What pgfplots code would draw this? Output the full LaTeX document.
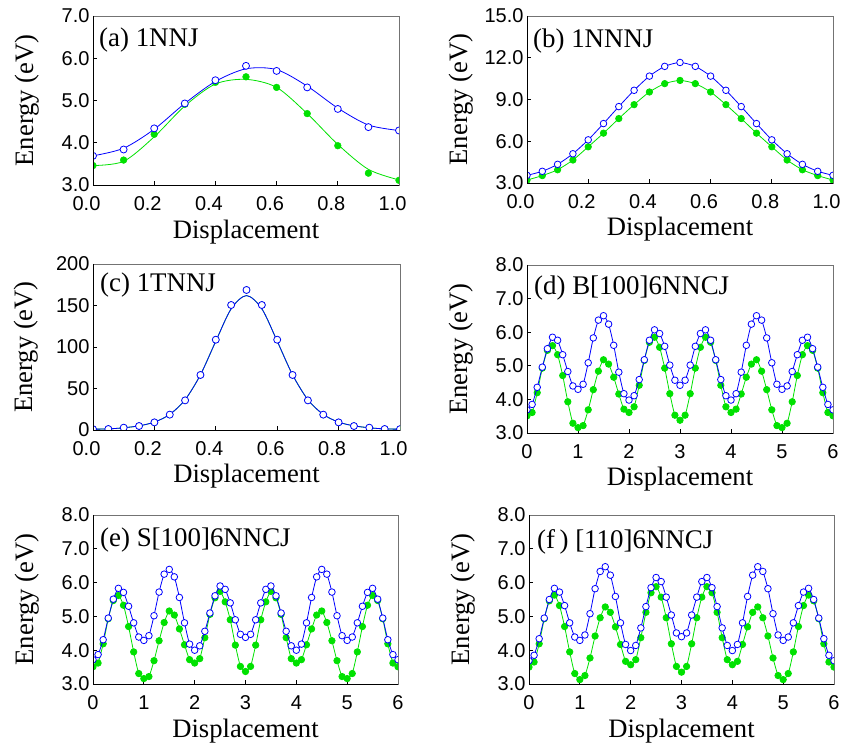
\documentclass[border=0pt]{standalone}
\usepackage{fontspec}
\setmainfont{Liberation Serif}
\newfontfamily\tickfont{Liberation Sans}
\usepackage{pgfplots}
\usepackage{pgfplotstable}
\pgfplotsset{compat=1.18}
\definecolor{grn}{RGB}{0,225,0}
\definecolor{blu}{RGB}{0,0,255}

\tikzset{plab/.style={anchor=base west, font=\fontsize{26.9}{26.9}\selectfont, inner sep=0pt}}
\pgfplotsset{
  panel/.style={
    scale only axis, width=306pt, height=168pt,
    xtick pos=bottom, ytick pos=left, tick align=inside,
    major tick length=4pt,
    axis line style={black!55, line width=0.6pt},
    tick style={black, line width=0.7pt},
    ticklabel style={font=\tickfont\fontsize{20}{20}\selectfont},
    xticklabel style={yshift=-8pt},
    /pgf/number format/assume math mode=true,
    label style={font=\fontsize{26.6}{26.6}\selectfont},
    xlabel={Displacement}, ylabel={Energy (eV)},
    xlabel style={at={(axis description cs:0.5,-0.315)}, anchor=base},
    ylabel style={at={(axis description cs:-0.196,0.5)}, anchor=base},
    clip marker paths=true,
    after end axis/.code={\draw[black,line width=0.8pt] (rel axis cs:0,1)--(rel axis cs:0,0)--(rel axis cs:1,0);},
  },
  xdec/.style={xticklabel style={xshift=-6.5pt, /pgf/number format/fixed, /pgf/number format/fixed zerofill, /pgf/number format/precision=1}},
  ydec/.style={yticklabel style={/pgf/number format/fixed, /pgf/number format/fixed zerofill, /pgf/number format/precision=1}},
  gmark/.style={only marks, mark=*, mark size=3.4pt, color=grn, mark options={fill=grn, draw=grn}},
  bmark/.style={only marks, mark=*, mark size=3.5pt, color=blu, mark options={fill=white, draw=blu, line width=0.8pt}},
  gline/.style={grn, line width=0.8pt, smooth, tension=0.4, mark=*, mark size=3.2pt, mark options={fill=grn, draw=grn}},
  bline/.style={blu, line width=0.8pt, smooth, tension=0.4, mark=*, mark size=3.3pt, mark options={fill=white, draw=blu, line width=0.8pt}},
}

% panel (b)
\pgfplotstableread{
x b g
0.00 3.55 3.21
0.05 3.84 3.53
0.10 4.34 3.95
0.15 5.10 4.65
0.20 6.10 5.60
0.25 7.27 6.58
0.30 8.49 7.63
0.35 9.66 8.63
0.40 10.68 9.54
0.45 11.38 10.14
0.50 11.66 10.37
0.55 11.38 10.14
0.60 10.68 9.54
0.65 9.66 8.63
0.70 8.49 7.63
0.75 7.27 6.58
0.80 6.10 5.60
0.85 5.10 4.65
0.90 4.34 3.95
0.95 3.84 3.53
1.00 3.55 3.21
}\tabB

% panel (c)
\pgfplotstableread{
x m l
0.00 1.0 1.0
0.05 1.2 1.3
0.10 2.8 2.7
0.15 4.8 5.0
0.20 9.2 9.5
0.25 18.5 18.8
0.30 35.7 36.5
0.35 66.3 66.5
0.40 108.8 107.0
0.45 150.6 146.0
0.50 168.7 162.0
0.55 150.6 146.0
0.60 108.8 107.0
0.65 66.3 66.5
0.70 35.7 36.5
0.75 18.5 18.8
0.80 9.2 9.5
0.85 4.8 5.0
0.90 2.8 2.7
0.95 1.2 1.3
1.00 1.0 1.0
}\tabC

% panels (d), (e), (f)
\pgfplotstableread{
x bd gd be ge bf gf
0.0 3.69 3.51 3.72 3.51 3.69 3.50
0.1 3.85 3.61 3.87 3.62 3.85 3.65
0.2 4.36 4.20 4.31 4.19 4.34 4.19
0.3 4.96 4.93 4.95 4.93 4.95 4.93
0.4 5.51 5.46 5.51 5.47 5.50 5.46
0.5 5.85 5.60 5.83 5.62 5.83 5.63
0.6 5.76 5.33 5.71 5.33 5.72 5.32
0.7 5.33 4.71 5.30 4.70 5.32 4.70
0.8 4.83 3.93 4.81 3.95 4.81 3.95
0.9 4.40 3.29 4.39 3.31 4.39 3.31
1.0 4.30 3.16 4.29 3.16 4.29 3.13
1.1 4.45 3.22 4.43 3.22 4.45 3.25
1.2 5.09 3.69 5.02 3.69 5.08 3.77
1.3 5.83 4.29 5.72 4.28 5.82 4.42
1.4 6.36 4.84 6.25 4.82 6.33 4.96
1.5 6.49 5.18 6.39 5.16 6.47 5.28
1.6 6.24 5.05 6.17 5.04 6.22 5.12
1.7 5.61 4.66 5.56 4.63 5.59 4.69
1.8 4.81 4.16 4.81 4.16 4.81 4.17
1.9 4.17 3.71 4.18 3.72 4.17 3.67
2.0 3.98 3.61 4.00 3.62 3.99 3.57
2.1 4.11 3.78 4.13 3.75 4.14 3.72
2.2 4.59 4.42 4.56 4.37 4.66 4.37
2.3 5.18 5.16 5.10 5.06 5.29 5.12
2.4 5.76 5.70 5.61 5.55 5.85 5.70
2.5 6.07 5.85 5.90 5.74 6.15 5.88
2.6 5.96 5.55 5.80 5.43 6.03 5.57
2.7 5.58 4.93 5.40 4.90 5.57 4.96
2.8 5.02 4.17 4.90 4.15 5.04 4.19
2.9 4.57 3.53 4.47 3.52 4.51 3.52
3.0 4.42 3.38 4.38 3.37 4.40 3.35
3.1 4.57 3.53 4.47 3.52 4.51 3.52
3.2 5.02 4.17 4.90 4.15 5.04 4.19
3.3 5.58 4.93 5.40 4.90 5.57 4.96
3.4 5.96 5.55 5.80 5.43 6.03 5.57
3.5 6.07 5.85 5.90 5.74 6.15 5.88
3.6 5.76 5.70 5.61 5.55 5.85 5.70
3.7 5.18 5.16 5.10 5.06 5.29 5.12
3.8 4.59 4.42 4.56 4.37 4.66 4.37
3.9 4.11 3.78 4.13 3.75 4.14 3.72
4.0 3.98 3.61 4.00 3.62 3.99 3.57
4.1 4.17 3.71 4.18 3.72 4.17 3.67
4.2 4.81 4.16 4.81 4.16 4.81 4.17
4.3 5.61 4.66 5.56 4.63 5.59 4.69
4.4 6.24 5.05 6.17 5.04 6.22 5.12
4.5 6.49 5.18 6.39 5.16 6.47 5.28
4.6 6.36 4.84 6.25 4.82 6.33 4.96
4.7 5.83 4.29 5.72 4.28 5.82 4.42
4.8 5.09 3.69 5.02 3.69 5.08 3.77
4.9 4.45 3.22 4.43 3.22 4.45 3.25
5.0 4.30 3.16 4.29 3.16 4.29 3.13
5.1 4.40 3.29 4.39 3.31 4.39 3.31
5.2 4.83 3.93 4.81 3.95 4.81 3.95
5.3 5.33 4.71 5.30 4.70 5.32 4.70
5.4 5.76 5.33 5.71 5.33 5.72 5.32
5.5 5.85 5.60 5.83 5.62 5.83 5.63
5.6 5.51 5.46 5.51 5.47 5.50 5.46
5.7 4.96 4.93 4.95 4.93 4.95 4.93
5.8 4.36 4.20 4.31 4.19 4.34 4.19
5.9 3.85 3.61 3.87 3.62 3.85 3.65
6.0 3.69 3.51 3.72 3.51 3.69 3.50
}\tabD

\begin{document}
\begin{tikzpicture}
\useasboundingbox (0,0) rectangle (842pt,746pt);

% (a)
\begin{axis}[panel, xdec, ydec, at={(93pt,561pt)}, anchor=south west, width=306pt, height=169pt,
  xmin=0, xmax=1, ymin=3, ymax=7, xtick={0,0.2,0.4,0.6,0.8,1}, ytick={3,4,5,6,7}]
\addplot[grn, line width=0.8pt, smooth, tension=0.5] coordinates {(0,3.46)(0.1,3.56)(0.2,4.14)(0.3,4.87)(0.4,5.39)(0.5,5.50)(0.6,5.31)(0.7,4.69)(0.8,3.96)(0.9,3.37)(1.0,3.12)};
\addplot[gmark] coordinates {(0,3.46)(0.1,3.59)(0.2,4.20)(0.3,4.91)(0.4,5.43)(0.5,5.56)(0.6,5.31)(0.7,4.69)(0.8,3.93)(0.9,3.28)(1.0,3.11)};
\addplot[blu, line width=0.8pt, smooth, tension=0.5] coordinates {(0,3.69)(0.1,3.87)(0.2,4.32)(0.3,4.93)(0.4,5.45)(0.5,5.75)(0.6,5.73)(0.7,5.34)(0.8,4.82)(0.9,4.42)(1.0,4.29)};
\addplot[bmark] coordinates {(0,3.69)(0.1,3.84)(0.2,4.34)(0.3,4.93)(0.4,5.48)(0.5,5.82)(0.6,5.70)(0.7,5.31)(0.8,4.80)(0.9,4.37)(1.0,4.29)};
\node[plab, xshift=6pt, yshift=-31pt] at (rel axis cs:0,1) {(a) 1NNJ};
\end{axis}

% (b)
\begin{axis}[panel, xdec, ydec, at={(527pt,563pt)}, anchor=south west, width=306pt, height=167pt,
  xmin=0, xmax=1, ymin=3, ymax=15, xtick={0,0.2,0.4,0.6,0.8,1}, ytick={3,6,9,12,15}]
\addplot[gline] table[x=x, y=g] {\tabB};
\addplot[bline] table[x=x, y=b] {\tabB};
\node[plab, xshift=6pt, yshift=-32pt] at (rel axis cs:0,1) {(b) 1NNNJ};
\end{axis}

% (c)
\begin{axis}[panel, xdec, at={(93pt,316pt)}, anchor=south west, width=307pt, height=166pt,
  xmin=0, xmax=1, ymin=0, ymax=200, xtick={0,0.2,0.4,0.6,0.8,1}, ytick={0,50,100,150,200}]
\addplot[grn, line width=0.8pt, smooth, tension=0.5] table[x=x, y=l] {\tabC};
\addplot[gmark] table[x=x, y=m] {\tabC};
\addplot[blu, line width=0.8pt, smooth, tension=0.5] table[x=x, y=l] {\tabC};
\addplot[bmark] table[x=x, y=m] {\tabC};
\node[plab, xshift=7pt, yshift=-28pt] at (rel axis cs:0,1) {(c) 1TNNJ};
\end{axis}

% (d)
\begin{axis}[panel, ydec, at={(527pt,313pt)}, anchor=south west, width=306pt, height=168pt,
  xmin=0, xmax=6, ymin=3, ymax=8, xtick={0,1,2,3,4,5,6}, ytick={3,4,5,6,7,8}]
\addplot[gline] table[x=x, y=gd] {\tabD};
\addplot[bline] table[x=x, y=bd] {\tabD};
\node[plab, xshift=7pt, yshift=-30pt] at (rel axis cs:0,1) {(d) B[100]6NNCJ};
\end{axis}

% (e)
\begin{axis}[panel, ydec, at={(93pt,62pt)}, anchor=south west, width=305pt, height=169pt,
  xmin=0, xmax=6, ymin=3, ymax=8, xtick={0,1,2,3,4,5,6}, ytick={3,4,5,6,7,8}]
\addplot[gline] table[x=x, y=ge] {\tabD};
\addplot[bline] table[x=x, y=be] {\tabD};
\node[plab, xshift=7pt, yshift=-32pt] at (rel axis cs:0,1) {(e) S[100]6NNCJ};
\end{axis}

% (f)
\begin{axis}[panel, ydec, at={(529pt,62pt)}, anchor=south west, width=305pt, height=169pt,
  xmin=0, xmax=6, ymin=3, ymax=8, xtick={0,1,2,3,4,5,6}, ytick={3,4,5,6,7,8}]
\addplot[gline] table[x=x, y=gf] {\tabD};
\addplot[bline] table[x=x, y=bf] {\tabD};
\node[plab, xshift=8pt, yshift=-33pt] at (rel axis cs:0,1) {(f\,) [110]6NNCJ};
\end{axis}

\end{tikzpicture}
\end{document}
